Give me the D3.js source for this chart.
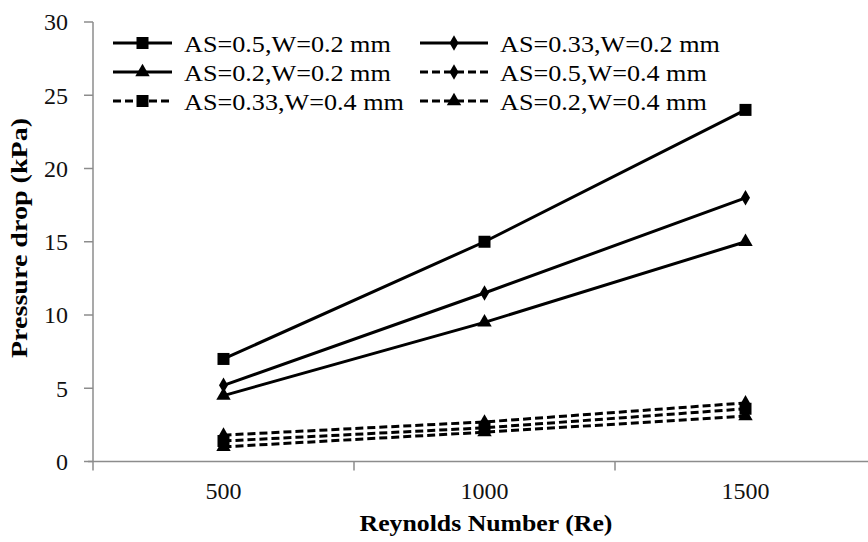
<!DOCTYPE html>
<html>
<head>
<meta charset="utf-8">
<script src="https://cdn.jsdelivr.net/npm/d3@7"></script>
<style>
  body { margin: 0; background: #fff; }
  text { font-family: "Liberation Serif", "Times New Roman", serif; }
</style>
</head>
<body>
<div class="chart"></div>
<script>
// chart data
var categories = ["500", "1000", "1500"];
var seriesNames = [
  "AS=0.5,W=0.2 mm", "AS=0.33,W=0.2 mm",
  "AS=0.2,W=0.2 mm", "AS=0.5,W=0.4 mm",
  "AS=0.33,W=0.4 mm", "AS=0.2,W=0.4 mm"
];
var as05w02 = [7, 15, 24];
var as033w02 = [5.2, 11.5, 18];
var as02w02 = [4.5, 9.5, 15];
var as05w04 = [1.8, 2.7, 4.0];
var as033w04 = [1.4, 2.3, 3.6];
var as02w04 = [1.0, 2.0, 3.1];
var yTicks = [0, 5, 10, 15, 20, 25, 30];

var seriesValues = [as05w02, as033w02, as02w02, as05w04, as033w04, as02w04];
var markers = ["square", "diamond", "triangle", "diamond", "square", "triangle"];
var dashed = [false, false, false, true, true, true];

var width = 868;
var height = 542;

var svg = d3.select(".chart").append("svg")
  .attr("width", width).attr("height", height);

// stretch a text horizontally, the source image is a bit wide
function stretch(sel, k) {
  sel.each(function () {
    var w = this.getComputedTextLength();
    d3.select(this).attr("textLength", w * k).attr("lengthAdjust", "spacingAndGlyphs");
  });
}

// scales
var x = d3.scaleBand().domain(categories).range([93, 876]);
var y = d3.scaleLinear().domain([0, 30]).range([461.5, 22]);
var xc = function (c) { return x(c) + x.bandwidth() / 2; };

// y axis
var yAxis = svg.append("g");
yAxis.append("line")
  .attr("x1", 93).attr("x2", 93)
  .attr("y1", y(30)).attr("y2", y(0))
  .attr("stroke", "#8c8c8c").attr("stroke-width", 1.5);
yAxis.selectAll(".ytick").data(yTicks).enter().append("line")
  .attr("x1", 84).attr("x2", 93)
  .attr("y1", d => y(d)).attr("y2", d => y(d))
  .attr("stroke", "#8c8c8c").attr("stroke-width", 1.5);
yAxis.selectAll(".ylab").data(yTicks).enter().append("text")
  .attr("x", 68).attr("y", d => y(d))
  .attr("dy", "0.35em")
  .attr("text-anchor", "end")
  .attr("font-size", 24)
  .attr("fill", "#111")
  .text(d => d);

// x axis
var xAxis = svg.append("g");
xAxis.append("line")
  .attr("x1", 88).attr("x2", 876)
  .attr("y1", y(0)).attr("y2", y(0))
  .attr("stroke", "#8c8c8c").attr("stroke-width", 1.5);
var edges = categories.map(c => x(c)).concat([x.range()[1]]);
xAxis.selectAll(".xtick").data(edges).enter().append("line")
  .attr("x1", d => d).attr("x2", d => d)
  .attr("y1", y(0)).attr("y2", y(0) + 9)
  .attr("stroke", "#8c8c8c").attr("stroke-width", 1.5);
xAxis.selectAll(".xlab").data(categories).enter().append("text")
  .attr("x", d => xc(d)).attr("y", 491)
  .attr("dy", "0.35em")
  .attr("text-anchor", "middle")
  .attr("font-size", 24)
  .attr("fill", "#111")
  .text(d => d);

// axis titles
svg.append("text")
  .attr("x", 486).attr("y", 523)
  .attr("dy", "0.35em")
  .attr("text-anchor", "middle")
  .attr("font-size", 23).attr("font-weight", "bold")
  .text("Reynolds  Number  (Re)")
  .call(stretch, 1.12);
svg.append("text")
  .attr("transform", "translate(19,238) rotate(-90)")
  .attr("dy", "0.35em")
  .attr("text-anchor", "middle")
  .attr("font-size", 23).attr("font-weight", "bold")
  .text("Pressure drop  (kPa)")
  .call(stretch, 1.22);

// marker drawing
function drawMarker(g, type, cx, cy) {
  if (type === "square") {
    g.append("rect").attr("x", cx - 6).attr("y", cy - 6)
      .attr("width", 12).attr("height", 12).attr("fill", "#000");
  } else if (type === "diamond") {
    g.append("path")
      .attr("d", d3.symbol().type(d3.symbolDiamond).size(70)())
      .attr("transform", "translate(" + cx + "," + cy + ")")
      .attr("fill", "#000");
  } else {
    g.append("path")
      .attr("d", d3.symbol().type(d3.symbolTriangle).size(90)())
      .attr("transform", "translate(" + cx + "," + cy + ")")
      .attr("fill", "#000");
  }
}

var line = d3.line().x((d, i) => xc(categories[i])).y(d => y(d));

seriesValues.forEach(function (vals, s) {
  var g = svg.append("g");
  g.append("path")
    .attr("d", line(vals))
    .attr("fill", "none")
    .attr("stroke", "#000")
    .attr("stroke-width", 3)
    .attr("stroke-dasharray", dashed[s] ? "8,4" : null);
  vals.forEach(function (v, i) {
    drawMarker(g, markers[s], xc(categories[i]), y(v));
  });
});

// legend
var legCols = [113, 420];
var legLen = [59, 68];
var legRows = [43, 72, 101];
seriesNames.forEach(function (name, s) {
  var col = s % 2, row = Math.floor(s / 2);
  var lx = legCols[col], ly = legRows[row], len = legLen[col];
  var g = svg.append("g");
  g.append("line")
    .attr("x1", lx).attr("x2", lx + len)
    .attr("y1", ly).attr("y2", ly)
    .attr("stroke", "#000").attr("stroke-width", 3)
    .attr("stroke-dasharray", dashed[s] ? "8,4" : null);
  drawMarker(g, markers[s], lx + len / 2, ly);
  g.append("text")
    .attr("x", lx + len + 12).attr("y", ly + 1)
    .attr("dy", "0.35em")
    .attr("font-size", 24)
    .text(name)
    .call(stretch, 1.09);
});
</script>
</body>
</html>
